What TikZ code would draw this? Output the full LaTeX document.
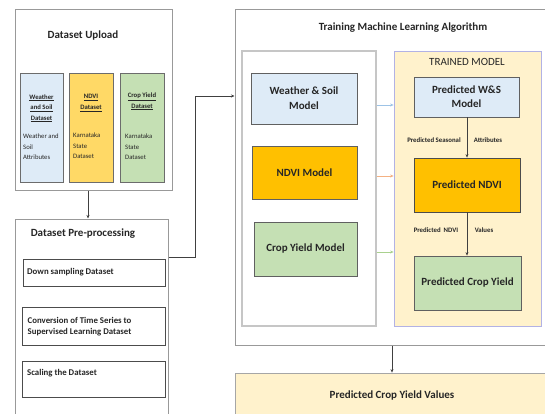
\documentclass[tikz,border=0pt]{standalone}
\usepackage{fontspec}
\setmainfont{Carlito}
\usetikzlibrary{arrows.meta}
\definecolor{lblue}{HTML}{DEEBF7}
\definecolor{lorange}{HTML}{FFC000}
\definecolor{lyellow}{HTML}{FFD966}
\definecolor{lgreen}{HTML}{C5E0B4}
\definecolor{cream}{HTML}{FFF2CC}
\definecolor{txt}{HTML}{262626}
\definecolor{arblue}{HTML}{9DC3E6}
\definecolor{arorange}{HTML}{F4B183}
\definecolor{argreen}{HTML}{A9D18E}
\tikzset{
  box/.style={draw=#1, line width=0.8pt, inner sep=0pt, rectangle},
  box/.default={gray!85!black},
  outer/.style={draw=gray!80, line width=1pt, fill=white, inner sep=0pt},
  big/.style={font=\fontsize{11}{13}\selectfont\bfseries, text=txt, align=center},
  mid/.style={font=\fontsize{8.8}{11}\selectfont\bfseries, text=txt, align=left},
  tiny/.style={font=\fontsize{6.7}{10.5}\selectfont, text=txt},
  tinyb/.style={font=\fontsize{6.7}{10.5}\selectfont\bfseries, text=txt, align=center},
  lab/.style={font=\fontsize{6.8}{8}\selectfont\bfseries, text=txt},
  arr/.style={-{Stealth[length=3.5pt,width=3pt]}, line width=0.6pt, draw=black!75},
}
\begin{document}
\begin{tikzpicture}[x=1pt,y=-1pt]
\useasboundingbox (0,0) rectangle (545,414);
\fill[white] (0,0) rectangle (545,414);

% Dataset upload
\node[outer, minimum width=157pt, minimum height=180pt] (upload) at (93.5,100) {};
\node[big] (uploadt) at (83,36) {Dataset Upload};
\node[box, fill=lblue, minimum width=43pt, minimum height=109pt] (wsd) at (41.5,127.5) {};
\node[box, fill=lyellow, minimum width=44pt, minimum height=109pt] (ndd) at (91,127.5) {};
\node[box, fill=lgreen, minimum width=44pt, minimum height=109pt] (cyd) at (142,127.5) {};
\node[tinyb, anchor=north] (wsdh) at (41.5,91) {\underline{Weather}\\\underline{and Soil}\\\underline{Dataset}};
\node[tinyb, anchor=north] (nddh) at (91,91) {\underline{NDVI}\\\underline{Dataset}};
\node[tinyb, anchor=north] (cydh) at (142,89.5) {\underline{Crop Yield}\\\underline{Dataset}};
\node[tiny, anchor=north west, align=left, inner sep=0pt] (wsdb) at (23,134) {Weather and\\Soil\\Attributes};
\node[tiny, anchor=north west, align=left, inner sep=0pt] (nddb) at (73,133) {Karnataka\\State\\Dataset};
\node[tiny, anchor=north west, align=left, inner sep=0pt] (cydb) at (125,134) {Karnataka\\State\\Dataset};

% Pre-processing
\node[outer, minimum width=153pt, minimum height=200pt] (pre) at (91.5,319) {};
\node[big] (pret) at (83,234) {Dataset Pre-processing};
\node[box=gray!60!black, minimum width=142pt, minimum height=27pt] (down) at (94,272.5) {};
\node[box=gray!60!black, minimum width=143pt, minimum height=38pt] (conv) at (93.5,326) {};
\node[box=gray!60!black, minimum width=143pt, minimum height=36pt] (scal) at (93.5,379) {};
\node[mid, anchor=west, inner sep=0pt] (downt) at (27,272.5) {Down sampling Dataset};
\node[mid, anchor=west, inner sep=0pt] (convt) at (27.5,327) {Conversion of Time Series to\\Supervised Learning Dataset};
\node[mid, anchor=west, inner sep=0pt] (scalt) at (27,373.5) {Scaling the Dataset};

% Training
\node[outer, minimum width=320pt, minimum height=335pt] (train) at (395,177.5) {};
\node[big] (traint) at (403,28) {Training Machine Learning Algorithm};
\node[draw=gray!45, line width=1.4pt, fill=white, minimum width=134pt, minimum height=275pt, inner sep=0pt] (left) at (309,188.5) {};
\node[box=gray!75!black, fill=lblue, minimum width=106pt, minimum height=51pt, big] (wsm) at (304,98.5) {Weather \& Soil\\[2pt]Model};
\node[box=gray!75!black, fill=lorange, minimum width=105pt, minimum height=53pt, big] (ndm) at (304.5,172.5) {NDVI Model};
\node[box=gray!75!black, fill=lgreen, minimum width=103pt, minimum height=54pt, big] (cym) at (305.5,249) {Crop Yield Model};

\node[draw=gray!50!blue!40, line width=0.8pt, fill=cream, minimum width=147pt, minimum height=275pt, inner sep=0pt] (trained) at (467.5,188.5) {};
\node[font=\fontsize{11}{13}\selectfont, text=txt] (trainedt) at (467,62) {TRAINED MODEL};
\node[box=gray!75!black, fill=lblue, minimum width=105pt, minimum height=40pt, big] (pws) at (466.5,97) {Predicted W\&S\\[1pt]Model};
\node[box=gray!60!black, fill=lorange, minimum width=106pt, minimum height=54pt, big] (pnd) at (467,185) {Predicted NDVI};
\node[box=gray!75!black, fill=lgreen, minimum width=107pt, minimum height=54pt, big] (pcy) at (467.5,283) {Predicted Crop Yield};

\draw[arr] (pws.south -| 467,0) -- (pnd.north -| 467,0);
\draw[arr] (pnd.south -| 467,0) -- (pcy.north -| 467,0);
\node[lab] (l1) at (434,140) {Predicted Seasonal};
\node[lab] (l2) at (488,140) {Attributes};
\node[lab] (l3) at (436,230) {Predicted\ \ NDVI};
\node[lab] (l4) at (484,230) {Values};

\draw[arr, draw=arblue] (left.east |- 0,105) -- (trained.west |- 0,105);
\draw[arr, draw=arorange] (left.east |- 0,176) -- (trained.west |- 0,176);
\draw[arr, draw=argreen] (left.east |- 0,252) -- (trained.west |- 0,252);

% Final
\node[draw=gray!70, line width=0.8pt, fill=cream, minimum width=320pt, minimum height=47pt, inner sep=0pt] (final) at (395,396.5) {};
\node[big] (finalt) at (392,396) {Predicted Crop Yield Values};

% connectors
\draw[arr] ([xshift=-5.5pt]upload.south) -- ([xshift=-5.5pt]upload.south |- pre.north);
\coordinate (j1) at (195,257);
\coordinate (j2) at (195,96);
\draw[arr] (pre.east |- j1) -- (j1) -- (j2) -- (train.west |- j2);
\draw[arr] (train.south -| 392,0) -- (final.north -| 392,0);
\end{tikzpicture}
\end{document}
